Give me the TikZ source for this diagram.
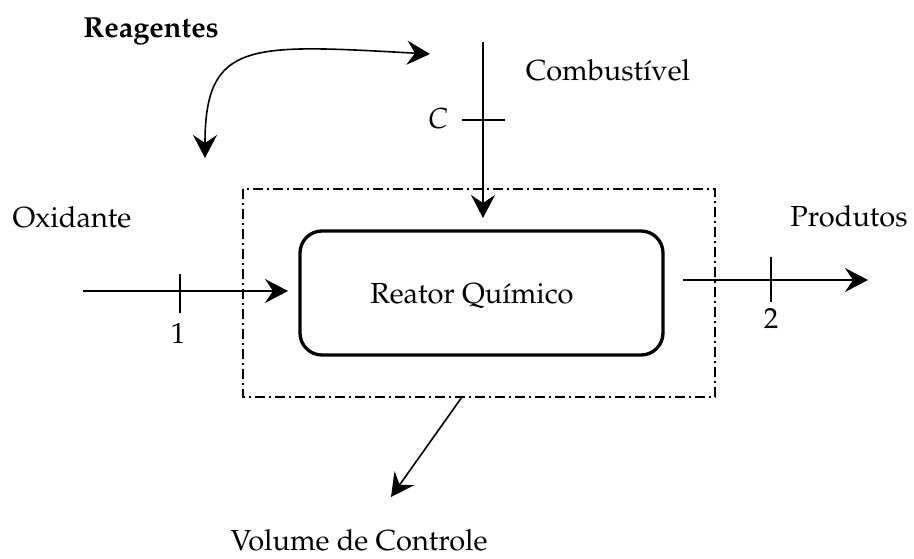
\documentclass[tikz,border=0pt]{standalone}
\usepackage[T1]{fontenc}
\usepackage{mathpazo}
\usetikzlibrary{arrows.meta}
\begin{document}
\begin{tikzpicture}[x=1pt,y=-1pt,
  lbl/.style={inner sep=0pt,anchor=base,font=\fontsize{29}{34}\selectfont},
  head/.tip={Stealth[length=23pt,width=24pt,inset=8pt]},
  flow/.style={line width=1.6pt,-head},
  tick/.style={line width=1.6pt},
  cvbox/.style={line width=1.4pt,dash pattern=on 10pt off 4pt on 2pt off 4pt},
  reactor/.style={draw,line width=3.3pt,rounded corners=22pt,minimum width=363pt,minimum height=124pt,inner sep=0pt}]
\useasboundingbox (0,0) rectangle (914,558);

% control volume and reactor
\draw[cvbox] (243,189) rectangle (715,397);
\node[reactor] (reac) at (481.5,293) {};
\node[lbl] (reactxt) at (472,303) {Reator Qu\'{\i}mico};

% labels
\node[lbl] (reag) at (151,37) {\textbf{Reagentes}};
\node[lbl] (comb) at (608,80) {Combust\'{\i}vel};
\node[lbl] (oxid) at (72,227) {Oxidante};
\node[lbl] (prod) at (849,226) {Produtos};
\node[lbl] (vc) at (359,550) {Volume de Controle};
\node[lbl] (lc) at (438,128) {\fontshape{it}\selectfont C};
\node[lbl] (l1) at (178,343) {1};
\node[lbl] (l2) at (771,328) {2};

% end points of the streams
\coordinate (fuelin) at (483,42);
\coordinate (fueltip) at (483,218);
\coordinate (oxin) at (83,291);
\coordinate (oxtip) at (288,291);
\coordinate (prodout) at (683,280);
\coordinate (prodtip) at (868,280);
\coordinate (cvpt) at (462,397);
\coordinate (cvtip) at (391,497);
\coordinate (reagA) at (205,158);
\coordinate (reagB) at (430,54);

% streams
\draw[flow] (fuelin) -- (fueltip);
\draw[flow] (oxin) -- (oxtip);
\draw[flow] (prodout) -- (prodtip);
\draw[flow] (cvpt) -- (cvtip);

% section marks
\draw[tick] (462,120) -- (505,120);
\draw[tick] (180,274) -- (180,313);
\draw[tick] (771,257) -- (771,302);

% reagent arrow
\draw[line width=1.6pt,head-head]
  (reagA) .. controls (205,40) and (250,44) .. (reagB);
\end{tikzpicture}
\end{document}
